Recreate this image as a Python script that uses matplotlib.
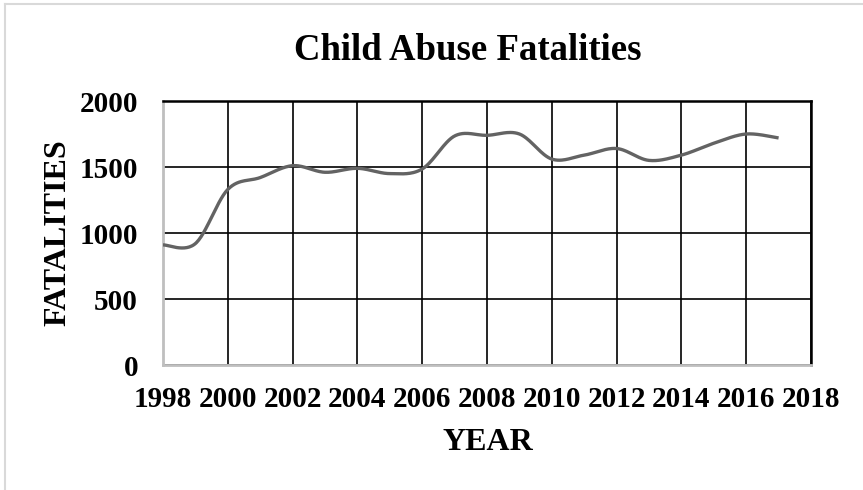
import matplotlib
matplotlib.use('Agg')
import matplotlib.pyplot as plt
from matplotlib.lines import Line2D
import numpy as np

years = [1998, 1999, 2000, 2001, 2002, 2003, 2004, 2005, 2006, 2007,
         2008, 2009, 2010, 2011, 2012, 2013, 2014, 2015, 2016, 2017]
fatalities = [910, 920, 1330, 1420, 1510, 1460, 1490, 1450, 1485, 1735,
              1740, 1750, 1560, 1590, 1640, 1550, 1590, 1680, 1750, 1720]
x_ticks = list(range(1998, 2019, 2))
y_ticks = [0, 500, 1000, 1500, 2000]


def smooth(xs, ys, n=30):
    # Excel-like smoothed line: Catmull-Rom turned into cubic Bezier segments
    xs = np.asarray(xs, float)
    ys = np.asarray(ys, float)
    px = np.concatenate([[xs[0]], xs, [xs[-1]]])
    py = np.concatenate([[ys[0]], ys, [ys[-1]]])
    t = np.linspace(0, 1, n)
    outx, outy = [], []
    for i in range(1, len(px) - 2):
        p0 = np.array([px[i], py[i]])
        p3 = np.array([px[i + 1], py[i + 1]])
        c1 = p0 + (p3 - np.array([px[i - 1], py[i - 1]])) / 6
        c2 = p3 - (np.array([px[i + 2], py[i + 2]]) - p0) / 6
        b = ((1 - t) ** 3)[:, None] * p0 + (3 * (1 - t) ** 2 * t)[:, None] * c1 \
            + (3 * (1 - t) * t ** 2)[:, None] * c2 + (t ** 3)[:, None] * p3
        outx.extend(b[:, 0])
        outy.extend(b[:, 1])
    return outx, outy


plt.rcParams['font.family'] = ['Liberation Serif', 'DejaVu Serif']
plt.rcParams['font.weight'] = 'bold'

fig = plt.figure(figsize=(8.63, 4.90), dpi=100)
ax = fig.add_axes([163 / 863, 1 - 365 / 490, 648 / 863, 264 / 490])

sx, sy = smooth(years, fatalities)
ax.plot(sx, sy, color='#636363', linewidth=2.4, solid_capstyle='butt', zorder=3)

ax.set_xlim(1998, 2018)
ax.set_ylim(0, 2000)
ax.set_xticks(x_ticks)
ax.set_yticks(y_ticks)
ax.set_xticklabels([str(v) for v in x_ticks], fontsize=21, fontweight='bold')
ax.set_yticklabels([str(v) for v in y_ticks], fontsize=21, fontweight='bold')
ax.grid(True, color='black', linewidth=1.2)
ax.tick_params(axis='x', length=0, pad=15)
ax.tick_params(axis='y', length=0, pad=18)

for side in ('top', 'right'):
    ax.spines[side].set_color('black')
    ax.spines[side].set_linewidth(1.8)
for side in ('left', 'bottom'):
    ax.spines[side].set_color('#bfbfbf')
    ax.spines[side].set_linewidth(2)

fig.text(468 / 863, 1 - 50 / 490, 'Child Abuse Fatalities', ha='center', va='center',
         fontsize=26.5, fontweight='bold')
fig.text(488 / 863, 1 - 442 / 490, 'YEAR', ha='center', va='center',
         fontsize=23, fontweight='bold')
fig.text(58 / 863, 1 - 233 / 490, 'FATALITIES', ha='center', va='center',
         rotation=90, fontsize=23, fontweight='bold')

# outer chart frame
fig.add_artist(Line2D([5 / 863, 5 / 863], [0, 1 - 4 / 490], color='#d9d9d9', linewidth=1.5))
fig.add_artist(Line2D([5 / 863, 1], [1 - 4 / 490, 1 - 4 / 490], color='#d9d9d9', linewidth=1.5))

fig.savefig('out.png', dpi=100)
